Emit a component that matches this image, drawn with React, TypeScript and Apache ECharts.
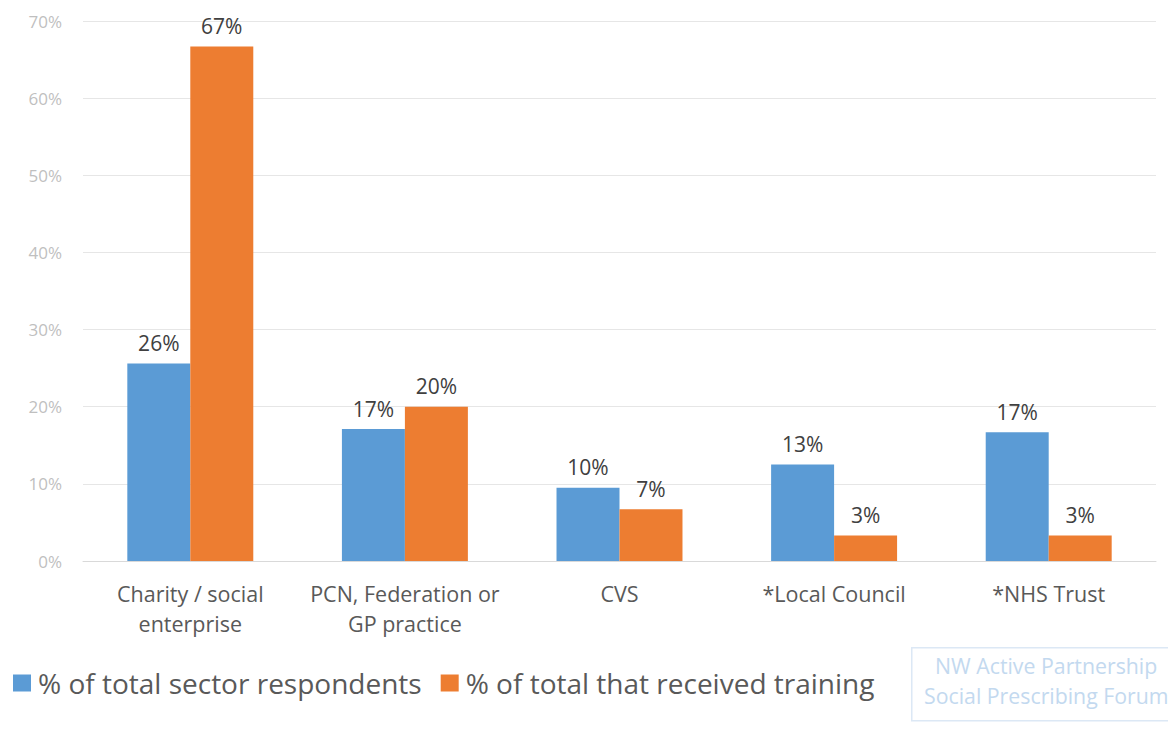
import React, { useEffect, useRef } from "react";
import * as echarts from "echarts";

const categories = [
  "Charity / social\nenterprise",
  "PCN, Federation or\nGP practice",
  "CVS",
  "*Local Council",
  "*NHS Trust",
];
const sectorRespondents = [25.6, 17.1, 9.5, 12.5, 16.7];
const receivedTraining = [66.7, 20, 6.7, 3.3, 3.3];
const seriesNames = ["% of total sector respondents", "% of total that received training"];
const watermarkLines = ["NW Active Partnership", "Social Prescribing Forum"];

const FONT = "'Open Sans', sans-serif";

export default function App() {
  const ref = useRef<HTMLDivElement>(null);
  useEffect(() => {
    if (!ref.current) return;
    const chart = echarts.init(ref.current, null, { renderer: "svg" });
    const labelOpt = {
      show: true,
      position: "top",
      distance: 10,
      color: "#404040",
      fontSize: 21,
      fontFamily: FONT,
      formatter: (p: any) => Math.round(p.value) + "%",
    };
    chart.setOption({
      animation: false,
      textStyle: { fontFamily: FONT },
      grid: { left: 83, right: 12, top: 21, bottom: 172, containLabel: false },
      legend: {
        left: 8,
        top: 664,
        itemWidth: 18,
        itemHeight: 17,
        itemGap: 19,
        icon: "rect",
        textStyle: { fontSize: 28, color: "#595959", fontFamily: FONT, padding: [0, 0, 0, 2] },
        data: seriesNames,
      },
      xAxis: {
        type: "category",
        data: categories,
        axisLine: { lineStyle: { color: "#d9d9d9", width: 1 } },
        axisTick: { show: false },
        axisLabel: {
          color: "#595959",
          fontSize: 21.5,
          lineHeight: 30,
          margin: 17,
          fontFamily: FONT,
          interval: 0,
        },
      },
      yAxis: {
        type: "value",
        min: 0,
        max: 70,
        interval: 10,
        axisLine: { show: false },
        axisTick: { show: false },
        splitLine: { lineStyle: { color: "#e6e6e6", width: 1 } },
        axisLabel: {
          formatter: "{value}%",
          color: "#bfbfbf",
          fontSize: 17,
          margin: 21,
          fontFamily: FONT,
        },
      },
      series: [
        {
          name: seriesNames[0],
          type: "bar",
          data: sectorRespondents,
          barGap: "0%",
          barCategoryGap: "41.3%",
          itemStyle: { color: "#5b9bd5" },
          label: labelOpt,
        },
        {
          name: seriesNames[1],
          type: "bar",
          data: receivedTraining,
          barGap: "0%",
          barCategoryGap: "41.3%",
          itemStyle: { color: "#ed7d31" },
          label: labelOpt,
        },
      ],
      graphic: [
        {
          type: "rect",
          left: 911,
          top: 647,
          shape: { width: 270, height: 73 },
          style: { fill: "#ffffff", stroke: "#dce8f5", lineWidth: 1.5 },
        },
        {
          type: "text",
          left: 935,
          top: 655,
          style: { text: watermarkLines[0], fill: "#c3d9ef", fontSize: 21.3, fontFamily: FONT },
        },
        {
          type: "text",
          left: 924,
          top: 685,
          style: { text: watermarkLines[1], fill: "#c3d9ef", fontSize: 21.3, fontFamily: FONT },
        },
      ],
    });
    return () => chart.dispose();
  }, []);
  return (
    <div
      ref={ref}
      style={{ position: "fixed", left: 0, top: 0, width: 1168, height: 733, background: "#fff" }}
    />
  );
}
